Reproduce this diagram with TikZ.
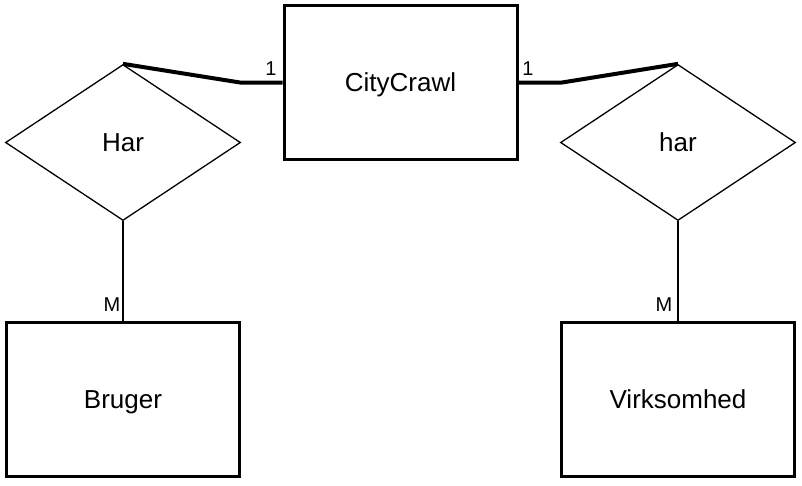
\documentclass[tikz,border=0pt]{standalone}
\usepackage{fontspec}
\setmainfont{Liberation Sans}
\usetikzlibrary{shapes.geometric}
\begin{document}
\begin{tikzpicture}[x=1pt,y=-1pt,
  bigtext/.style={font=\fontsize{26}{30}\selectfont,text height=18.6pt,text depth=0pt},
  entity/.style={draw,line width=3pt,rectangle,inner sep=0pt,
    minimum width=233pt,minimum height=154pt,bigtext},
  relation/.style={draw,line width=1.3pt,diamond,inner sep=0pt,
    minimum width=235pt,minimum height=156pt,bigtext},
  card/.style={inner sep=0pt,font=\fontsize{20}{22}\selectfont,text height=14.3pt,text depth=0pt},
  thickline/.style={line width=4pt},
  thinline/.style={line width=1.3pt}]
\useasboundingbox (0,0) rectangle (802,485);
\node[entity] (city) at (400.5,82.5) {CityCrawl};
\node[relation] (har1) at (123,142.5) {Har};
\node[relation] (har2) at (678,142.5) {har};
\node[entity] (bruger) at (123,399.5) {Bruger};
\node[entity] (virk) at (678,399.5) {Virksomhed};
\coordinate (bendL) at (240,82.5);
\coordinate (bendR) at (562,82.5);
\draw[thickline,line join=miter] (har1.north) -- (bendL) -- (city.west);
\draw[thickline,line join=miter] (city.east) -- (bendR) -- (har2.north);
\draw[thinline] (har1.south) -- (bruger.north);
\draw[thinline] (har2.south) -- (virk.north);
\node[card] (c1) at (271,68.5) {1};
\node[card] (c2) at (528,68.5) {1};
\node[card] (m1) at (112,304.5) {M};
\node[card] (m2) at (664,304.5) {M};
\end{tikzpicture}
\end{document}
